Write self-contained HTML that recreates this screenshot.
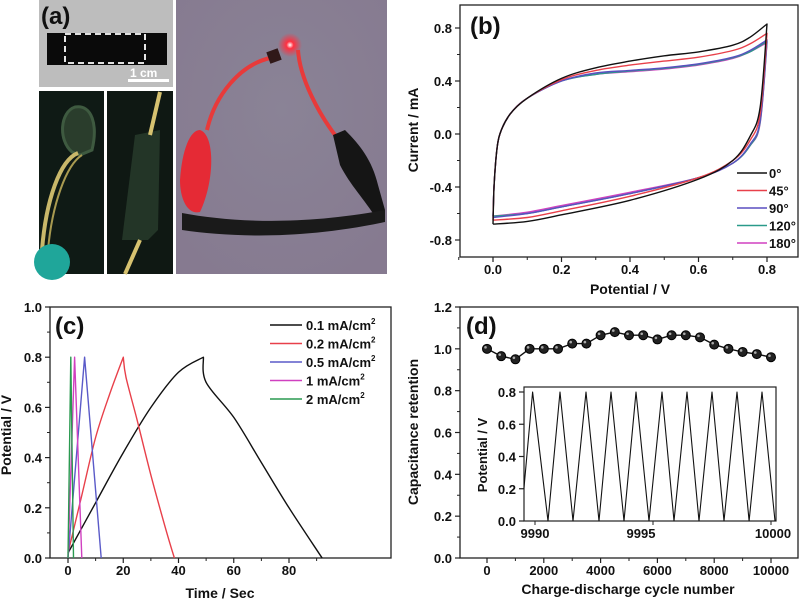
<!DOCTYPE html>
<html><head><meta charset="utf-8">
<style>
html,body{margin:0;padding:0;background:#fff;}
svg{display:block;font-family:"Liberation Sans",Arial,sans-serif;}
.tk{font-size:13px;font-weight:bold;fill:#111;}
.at{font-size:14px;font-weight:bold;fill:#111;}
.pl{font-size:24px;font-weight:bold;fill:#111;}
.lg{font-size:13px;font-weight:bold;fill:#111;}
</style></head>
<body>
<svg id="fig" width="800" height="600" viewBox="0 0 800 600">
<defs>
<radialGradient id="bgp" cx="50%" cy="40%" r="70%"><stop offset="0" stop-color="#8a8396"/><stop offset="1" stop-color="#867a90"/></radialGradient>
<radialGradient id="glow" cx="50%" cy="50%" r="50%"><stop offset="0" stop-color="#fff"/><stop offset="0.3" stop-color="#ff3040"/><stop offset="1" stop-color="#ff3040" stop-opacity="0"/></radialGradient>
</defs>
<g>
 <rect x="39" y="0" width="134" height="87" fill="#bdbdbd"/>
 <rect x="47" y="33" width="120" height="32" fill="#0a0a0a"/>
 <rect x="65" y="34" width="80" height="29" fill="none" stroke="#fff" stroke-width="1.8" stroke-dasharray="6,4"/>
 <text x="130" y="77" font-size="12" font-weight="bold" fill="#fff">1 cm</text>
 <rect x="128" y="79" width="41" height="3" fill="#fff"/>
 <text x="41" y="24" class="pl">(a)</text>
 <rect x="39" y="91" width="65" height="183" fill="#0f1a15"/>
 <path d="M72 152 C58 140,60 112,75 107 C92 104,98 125,92 150 L80 155 Z" fill="#2a3d2c" stroke="#3e5a40" stroke-width="3"/>
 <path d="M78 153 C60 160,46 200,42 250" stroke="#c9b86a" stroke-width="4" fill="none"/>
 <path d="M82 155 C66 165,52 205,48 250" stroke="#a89a50" stroke-width="2" fill="none"/>
 <ellipse cx="52" cy="262" rx="18" ry="18" fill="#1fa69a"/>
 <rect x="107" y="91" width="66" height="183" fill="#0f1813"/>
 <path d="M135 135 L160 130 L158 230 L148 240 L122 240 Z" fill="#233527"/>
 <path d="M160 92 L150 135" stroke="#d7c270" stroke-width="4"/>
 <path d="M140 240 L125 274" stroke="#d7c270" stroke-width="4"/>
 <rect x="176" y="0" width="211" height="274" fill="url(#bgp)"/>
 <path d="M207 130 C215 95,240 65,270 58" stroke="#e83a3a" stroke-width="4" fill="none"/>
 <rect x="268" y="50" width="12" height="12" fill="#301818" transform="rotate(-20 274 56)"/>
 <circle cx="290" cy="45" r="12" fill="url(#glow)"/>
 <path d="M298 50 C300 80,320 115,335 135" stroke="#e83a3a" stroke-width="4" fill="none"/>
 <path d="M200 130 C215 135,215 180,200 212 C188 215,180 200,180 180 C182 150,190 130,200 130 Z" fill="#e52a35"/>
 <path d="M333 135 L345 130 C360 145,372 160,378 185 L385 210 L376 218 C365 200,350 185,340 165 Z" fill="#151515"/>
 <path d="M182 213 C230 222,300 226,385 210 L385 222 C300 240,230 237,182 230 Z" fill="#1a1a1a"/>
</g>
<g id="pb"></g>
<g id="pc"></g>
<g id="pd"></g>
</svg>
<script>
// ---- Panel (b) data ----
const cvUpperV=[0,0.003,0.01,0.02,0.05,0.1,0.2,0.3,0.4,0.5,0.6,0.7,0.75,0.8];
const cvLowerV=[0,0.1,0.2,0.4,0.6,0.7,0.75,0.78,0.8];
const cvLabels=["0°","45°","90°","120°","180°"];
const cvColors=["#111","#e8404a","#5a4fc0","#2a9a8a","#d040c0"];
const cvUp0=[-0.68,-0.4,-0.15,0.0,0.15,0.27,0.42,0.5,0.55,0.59,0.62,0.67,0.73,0.83];
const cvUp45=[-0.65,-0.4,-0.15,0.0,0.15,0.27,0.41,0.48,0.52,0.55,0.58,0.63,0.68,0.76];
const cvUp90=[-0.63,-0.4,-0.15,0.0,0.15,0.27,0.4,0.46,0.48,0.5,0.53,0.58,0.63,0.71];
const cvUp120=[-0.62,-0.4,-0.15,0.0,0.15,0.27,0.4,0.45,0.475,0.495,0.525,0.575,0.62,0.7];
const cvUp180=[-0.62,-0.4,-0.15,0.0,0.15,0.27,0.4,0.45,0.47,0.49,0.52,0.57,0.62,0.69];
const cvLo0=[-0.68,-0.66,-0.61,-0.5,-0.34,-0.2,-0.02,0.2,0.83];
const cvLo45=[-0.65,-0.63,-0.58,-0.47,-0.33,-0.2,-0.05,0.15,0.76];
const cvLo90=[-0.63,-0.6,-0.55,-0.45,-0.33,-0.22,-0.08,0.1,0.71];
const cvLo120=[-0.62,-0.6,-0.55,-0.45,-0.33,-0.22,-0.09,0.09,0.7];
const cvLo180=[-0.62,-0.59,-0.54,-0.44,-0.33,-0.22,-0.09,0.08,0.69];
const cvXTicks=[0,0.2,0.4,0.6,0.8];
const cvYTicks=[-0.8,-0.4,0,0.4,0.8];
// ---- Panel (c) data ----
const gcdLabels=["0.1 mA/cm","0.2 mA/cm","0.5 mA/cm","1 mA/cm","2 mA/cm"];
const gcdColors=["#111","#e8404a","#5a5ac8","#d040c0","#2a9a50"];
const gcdT01=[0,10,20,30,40,49,50,60,70,80,92];
const gcdV01=[0.02,0.22,0.42,0.6,0.74,0.8,0.7,0.56,0.38,0.2,0];
const gcdT02=[0,5,10,15,20,21,25,30,35,38.5];
const gcdV02=[0.02,0.25,0.48,0.65,0.8,0.72,0.55,0.33,0.13,0];
const gcdT05=[0,6,12];
const gcdV05=[0,0.8,0];
const gcdT1=[0,2.4,5];
const gcdV1=[0,0.8,0];
const gcdT2=[0,1,2];
const gcdV2=[0,0.8,0];
const gcdXTicks=[0,20,40,60,80];
const gcdYTicks=[0,0.2,0.4,0.6,0.8,1.0];
// ---- Panel (d) data ----
const cycN=[0,500,1000,1500,2000,2500,3000,3500,4000,4500,5000,5500,6000,6500,7000,7500,8000,8500,9000,9500,10000];
const cycRet=[1.0,0.965,0.95,1.0,1.0,1.0,1.025,1.025,1.065,1.08,1.065,1.065,1.045,1.065,1.065,1.055,1.02,1.0,0.985,0.975,0.96];
const cycXTicks=[0,2000,4000,6000,8000,10000];
const cycYTicks=[0,0.2,0.4,0.6,0.8,1.0,1.2];
const insT=[9989.53,9989.9,9990.55,9991.06,9991.61,9992.16,9992.71,9993.22,9993.77,9994.28,9994.83,9995.38,9995.89,9996.44,9996.95,9997.5,9998.01,9998.56,9999.07,9999.62,10000.17];
const insV=[0.2,0.8,0,0.8,0,0.8,0,0.8,0,0.8,0,0.8,0,0.8,0,0.8,0,0.8,0,0.8,0];
const insXTicks=[9990,9995,10000];
const insYTicks=[0,0.2,0.4,0.6,0.8];

const NS="http://www.w3.org/2000/svg";
function mk(parent,tag,attrs){const e=document.createElementNS(NS,tag);for(const k in attrs)e.setAttribute(k,attrs[k]);parent.appendChild(e);return e;}
function lin(d0,d1,r0,r1){return v=>r0+(v-d0)*(r1-r0)/(d1-d0);}
function frame(g,x0,y0,x1,y1,name){const r=mk(g,'rect',{x:x0,y:y0,width:x1-x0,height:y1-y0,fill:'none',stroke:'#222','stroke-width':1.3});}
function txt(g,x,y,s,cls,anchor,name){const t=mk(g,'text',{x:x,y:y,class:cls,'text-anchor':anchor||'start'});t.textContent=s;return t;}
function xTicks(g,ticks,sx,yb,fmt,len,name,minor){ticks.forEach(v=>{mk(g,'line',{x1:sx(v),x2:sx(v),y1:yb,y2:yb+len,stroke:'#222','stroke-width':1.2});txt(g,sx(v),yb+17,fmt(v),'tk','middle',name);});if(minor)minor.forEach(v=>mk(g,'line',{x1:sx(v),x2:sx(v),y1:yb,y2:yb+3,stroke:'#222'}));}
function yTicks(g,ticks,sy,xl,fmt,name,minor){ticks.forEach(v=>{mk(g,'line',{x1:xl-5,x2:xl,y1:sy(v),y2:sy(v),stroke:'#222','stroke-width':1.2});txt(g,xl-8,sy(v)+5,fmt(v),'tk','end',name);});if(minor)minor.forEach(v=>mk(g,'line',{x1:xl-3,x2:xl,y1:sy(v),y2:sy(v),stroke:'#222'}));}
function poly(g,xs,ys,sx,sy,col,w,name){const p=mk(g,'polyline',{points:xs.map((x,i)=>sx(x).toFixed(1)+','+sy(ys[i]).toFixed(1)).join(' '),fill:'none',stroke:col,'stroke-width':w,'stroke-linejoin':'round'});return p;}
// smooth path through points (Catmull-Rom), optional corner indices kept sharp
function smooth(g,xs,ys,sx,sy,col,w,name,corners){const P=xs.map((x,i)=>[sx(x),sy(ys[i])]);corners=corners||[];let d='M'+P[0][0].toFixed(1)+','+P[0][1].toFixed(1);
for(let i=0;i<P.length-1;i++){const p0=(i===0||corners.includes(i))?P[i]:P[i-1],p1=P[i],p2=P[i+1],p3=(i+2>=P.length||corners.includes(i+1))?P[i+1]:P[i+2];
const c1=[p1[0]+(p2[0]-p0[0])/6,p1[1]+(p2[1]-p0[1])/6],c2=[p2[0]-(p3[0]-p1[0])/6,p2[1]-(p3[1]-p1[1])/6];
d+=' C'+c1.map(v=>v.toFixed(1)).join(',')+' '+c2.map(v=>v.toFixed(1)).join(',')+' '+p2[0].toFixed(1)+','+p2[1].toFixed(1);}
const p=mk(g,'path',{d:d,fill:'none',stroke:col,'stroke-width':w,'stroke-linejoin':'round'});return p;}

// Panel b
(function(){const g=document.getElementById('pb');
const sx=lin(0,0.8,493,767), sy=lin(0,0.8,134,28);
frame(g,460,5,798,257,'cv-plot-frame');
xTicks(g,cvXTicks,sx,257,v=>v.toFixed(1),5,'x-tick-label',[-0.1,0.1,0.3,0.5,0.7]);
yTicks(g,cvYTicks,sy,460,v=>v.toFixed(1),'y-tick-label',[-0.6,-0.2,0.2,0.6]);
txt(g,630,294,'Potential / V','at','middle','x-axis-title');
const yt=txt(g,0,0,'Current / mA','at','middle','y-axis-title');yt.setAttribute('transform','translate(418,130) rotate(-90)');
txt(g,470,34,'(b)','pl','start','panel-b-label');
const ups=[cvUp0,cvUp45,cvUp90,cvUp120,cvUp180], los=[cvLo0,cvLo45,cvLo90,cvLo120,cvLo180];
[4,3,2,1,0].forEach(i=>{const xs=cvUpperV.concat(cvLowerV.slice(0,-1).reverse()),ys=ups[i].concat(los[i].slice(0,-1).reverse());smooth(g,xs,ys,sx,sy,cvColors[i],1.4,'cv-curve-'+i,[cvUpperV.length-1]);});
cvLabels.forEach((l,i)=>{const y=173+i*17.5;const ln=mk(g,'line',{x1:737,x2:767,y1:y,y2:y,stroke:cvColors[i],'stroke-width':1.5});txt(g,769,y+5,l,'lg','start','legend-entry');});
})();

// Panel c
(function(){const g=document.getElementById('pc');
const sx=lin(0,80,68,289), sy=lin(0,1,558,307);
frame(g,50,307,391,558,'gcd-plot-frame');
xTicks(g,gcdXTicks,sx,558,v=>String(v),5,'x-tick-label',[10,30,50,70,90]);
yTicks(g,gcdYTicks,sy,50,v=>v.toFixed(1),'y-tick-label',[0.1,0.3,0.5,0.7,0.9]);
txt(g,220,598,'Time / Sec','at','middle','x-axis-title');
const yt=txt(g,0,0,'Potential / V','at','middle','y-axis-title');yt.setAttribute('transform','translate(11,435) rotate(-90)');
txt(g,55,334,'(c)','pl','start','panel-c-label');
smooth(g,gcdT01,gcdV01,sx,sy,gcdColors[0],1.4,'gcd-curve-0',[5]);
smooth(g,gcdT02,gcdV02,sx,sy,gcdColors[1],1.4,'gcd-curve-1',[4]);
const ts=[gcdT05,gcdT1,gcdT2], vs=[gcdV05,gcdV1,gcdV2];
ts.forEach((t,i)=>poly(g,t,vs[i],sx,sy,gcdColors[i+2],1.4,'gcd-curve-'+(i+2)));
gcdLabels.forEach((l,i)=>{const y=325+i*18.5;const ln=mk(g,'line',{x1:270,x2:302,y1:y,y2:y,stroke:gcdColors[i],'stroke-width':1.5});const t=txt(g,306,y+5,l,'lg','start','legend-entry');const s=mk(t,'tspan',{dy:-6,'font-size':8});s.textContent='2';});
})();

// Panel d
(function(){const g=document.getElementById('pd');
const sx=lin(0,10000,487,771), sy=lin(0,1.2,558,307);
frame(g,460,307,798,558,'cycling-plot-frame');
xTicks(g,cycXTicks,sx,558,v=>String(v),5,'x-tick-label',[1000,3000,5000,7000,9000]);
yTicks(g,cycYTicks,sy,460,v=>v.toFixed(1),'y-tick-label',[0.1,0.3,0.5,0.7,0.9,1.1]);
txt(g,628,594,'Charge-discharge cycle number','at','middle','x-axis-title');
const yt=txt(g,0,0,'Capacitance retention','at','middle','y-axis-title');yt.setAttribute('transform','translate(418,432) rotate(-90)');
txt(g,466,334,'(d)','pl','start','panel-d-label');
poly(g,cycN,cycRet,sx,sy,'#111',1.4,'retention-line');
cycN.forEach((n,i)=>{const c=mk(g,'circle',{cx:sx(n),cy:sy(cycRet[i]),r:4.5,fill:'#222',stroke:'#000'});mk(g,'circle',{cx:sx(n)-1.5,cy:sy(cycRet[i])-1.5,r:1.3,fill:'#aaa'});});
const ix=lin(9990,10000,535,771), iy=lin(0,0.8,521,392);
const ins=mk(g,'rect',{x:524,y:387,width:252,height:134,fill:'#fff',stroke:'#222','stroke-width':1.2});
insXTicks.forEach(v=>{mk(g,'line',{x1:ix(v),x2:ix(v),y1:521,y2:525,stroke:'#222'});txt(g,ix(v)-(v===9995?12:v===10000?-2:0),538,String(v),'tk','middle','inset-x-tick-label');});
yTicks(g,insYTicks,iy,524,v=>v.toFixed(1),'inset-y-tick-label');
const yi=txt(g,0,0,'Potential / V','lg','middle','inset-y-axis-title');yi.setAttribute('transform','translate(487,455) rotate(-90)');
poly(g,insT,insV,ix,iy,'#111',1.1,'inset-gcd-line');
})();
</script>
</body></html>
